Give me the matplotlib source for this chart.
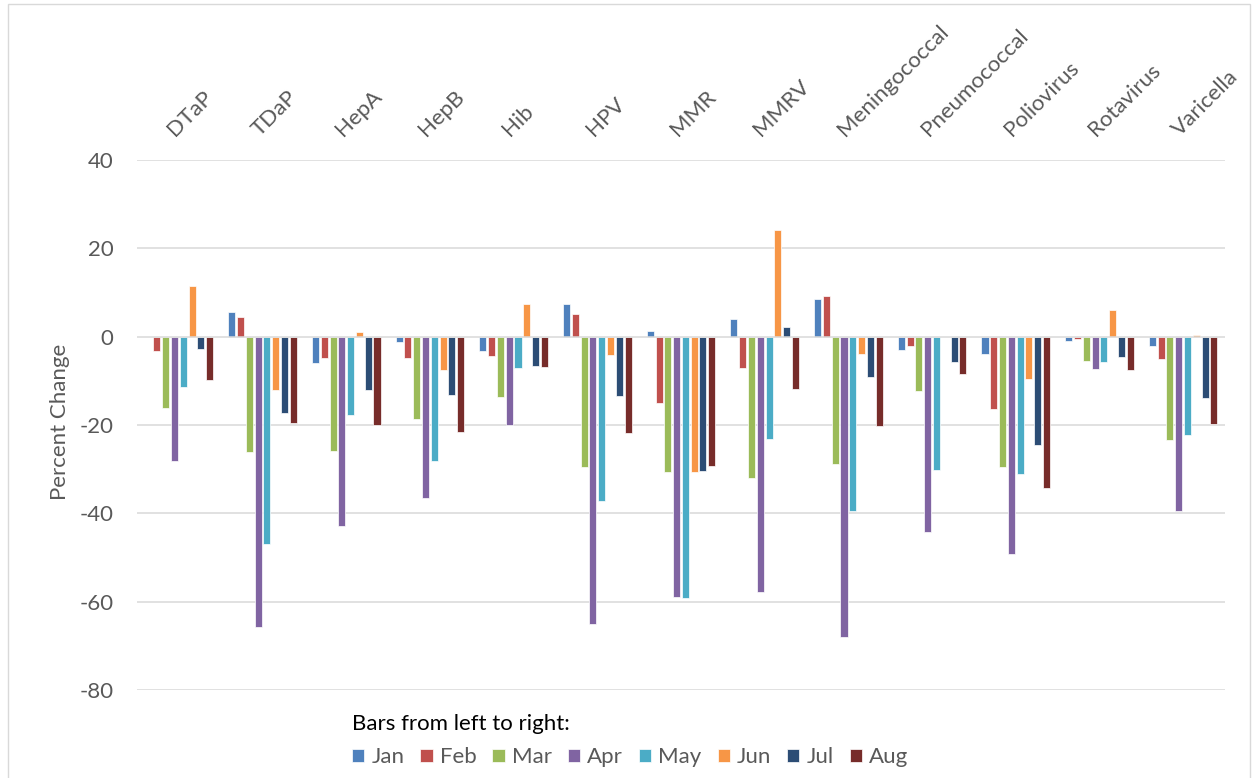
import matplotlib
matplotlib.use("Agg")
import matplotlib.pyplot as plt
import matplotlib.transforms as mtransforms
from matplotlib.patches import Rectangle
import numpy as np

plt.rcParams['font.family'] = ['Lato', 'DejaVu Sans']

categories = ["DTaP", "TDaP", "HepA", "HepB", "Hib", "HPV", "MMR", "MMRV",
              "Meningococcal", "Pneumococcal", "Poliovirus", "Rotavirus", "Varicella"]
months = ["Jan", "Feb", "Mar", "Apr", "May", "Jun", "Jul", "Aug"]

jan = [0.0, 5.5, -6.0, -1.1, -3.2, 7.4, 1.2, 3.9, 8.6, -3.1, -3.9, -0.9, -2.0]
feb = [-3.2, 4.5, -4.8, -4.8, -4.4, 5.1, -15.0, -7.2, 9.2, -2.2, -16.4, -0.5, -5.0]
mar = [-16.1, -26.2, -25.8, -18.6, -13.6, -29.5, -30.6, -32.0, -28.8, -12.4, -29.4, -5.6, -23.5]
apr = [-28.1, -65.7, -42.9, -36.6, -19.9, -65.1, -58.9, -57.8, -68.0, -44.3, -49.2, -7.3, -39.4]
may = [-11.4, -46.9, -17.8, -28.2, -7.1, -37.3, -59.1, -23.1, -39.4, -30.3, -31.2, -5.7, -22.3]
jun = [11.5, -12.0, 1.1, -7.6, 7.5, -4.2, -30.6, 24.1, -4.0, 0.0, -9.5, 6.0, 0.4]
jul = [-2.7, -17.3, -12.1, -13.2, -6.7, -13.4, -30.4, 2.3, -9.1, -5.8, -24.6, -4.5, -13.9]
aug = [-9.7, -19.6, -20.0, -21.6, -6.9, -21.7, -29.2, -11.9, -20.2, -8.4, -34.2, -7.6, -19.7]

series = [jan, feb, mar, apr, may, jun, jul, aug]
colors = ["#4F81BD", "#C0504D", "#9BBB59", "#8064A2", "#4BACC6", "#F79646", "#2C4D75", "#772C2A"]
yticks = [40, 20, 0, -20, -40, -60, -80]

FS = 16
W, H = 1253, 778
fig = plt.figure(figsize=(W / 100, H / 100), dpi=100)
ax = fig.add_axes([137 / W, 1 - 690 / H, 1088 / W, 530 / H])

x = np.arange(len(categories))
pitch = 0.105
width = 0.084
handles = []
for i, (vals, c) in enumerate(zip(series, colors)):
    b = ax.bar(x + (i - 3.5) * pitch, vals, width=width, color=c,
               edgecolor="white", linewidth=0.5, zorder=2, label=months[i])
    handles.append(b)

ax.set_xlim(-0.5, len(categories) - 0.5)
ax.set_ylim(-80, 40)
ax.set_yticks(yticks)
ax.set_yticklabels([str(v) for v in yticks])
ax.tick_params(axis='y', length=0, pad=17, labelsize=FS, labelcolor="#595959")
ax.set_xticks([])
for s in ax.spines.values():
    s.set_visible(False)
for v in yticks:
    ax.axhline(v, color="#D9D9D9", linewidth=1.1, zorder=1 if v != 0 else 3)

ax.set_ylabel("Percent Change", fontsize=FS, color="#595959")
ax.yaxis.set_label_coords(-0.062, 0.505)

trans = mtransforms.blended_transform_factory(ax.transData, ax.transAxes)
for xi, cat in zip(x, categories):
    ax.text(xi - 0.04, 1.043, cat, transform=trans, rotation=45,
            rotation_mode='anchor', ha='left', va='baseline',
            fontsize=FS, color="#595959")

leg = fig.legend(handles=handles, labels=months, ncol=8, loc='upper left',
                 bbox_to_anchor=(352 / W, 1 - 714 / H), frameon=False,
                 title="Bars from left to right:", alignment='left',
                 fontsize=FS, title_fontsize=FS,
                 handlelength=0.55, handleheight=0.55, handletextpad=0.32,
                 columnspacing=0.72, borderpad=0, borderaxespad=0,
                 labelspacing=0.6)
for t in leg.get_texts():
    t.set_color("#595959")
leg.get_title().set_color("black")

fig.patches.append(Rectangle((8 / W, -0.01), 1242 / W, 1 - 4 / H + 0.01,
                             transform=fig.transFigure, fill=False,
                             edgecolor="#D9D9D9", linewidth=1.0))

fig.savefig("out.png", dpi=100)
